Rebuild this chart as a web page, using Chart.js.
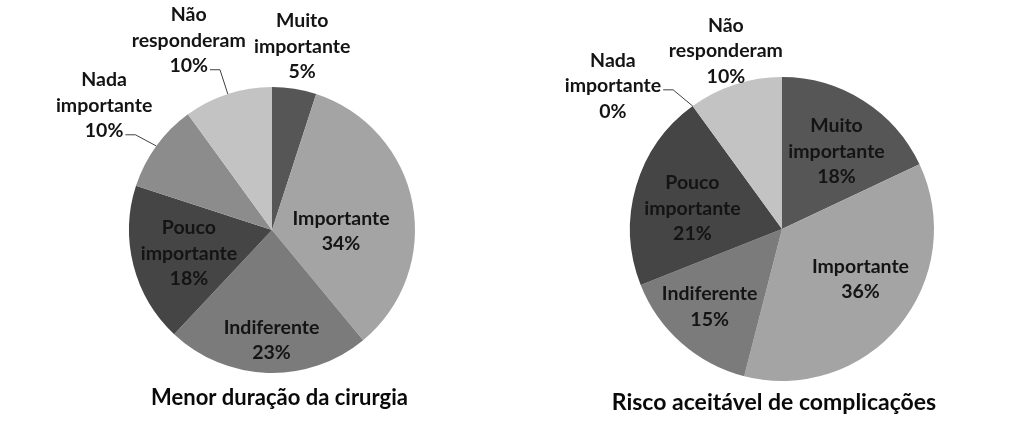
<!DOCTYPE html>
<html>
<head>
<meta charset="utf-8">
<script src="https://cdn.jsdelivr.net/npm/chart.js@4"></script>
<style>
  body { margin: 0; background: #fff; }
  #wrap { position: relative; width: 1024px; height: 447px; overflow: hidden; }
  canvas { position: absolute; top: 0; }
</style>
</head>
<body>
<div id="wrap">
  <canvas id="chartLeft" width="512" height="447" style="left:0"></canvas>
  <canvas id="chartRight" width="512" height="447" style="left:512px"></canvas>
</div>
<script>
// categories (line breaks as in the picture)
const categories = ['Muito\nimportante', 'Importante', 'Indiferente', 'Pouco\nimportante', 'Nada\nimportante', 'Não\nresponderam'];

// percentages
const duracaoValues = [5, 34, 23, 18, 10, 10];
const riscoValues = [18, 36, 15, 21, 0, 10];

const titleLeft = 'Menor duração da cirurgia';
const titleRight = 'Risco aceitável de complicações';

const sliceColors = ['#565656', '#a4a4a4', '#7b7b7b', '#454545', '#8c8c8c', '#c3c3c3'];

// label placement: [radius fraction, dx, dy, line index for leader (or null)]
const placeLeft = [[1.305, 1, 1, null], [0.47, 3, 14, null], [0.77, 3, 0, null], [0.6, 0, 2, null], [1.46, 1, -2, 2], [1.41, -21, 2, 2]];
const placeRight = [[0.62, 4, 2, null], [0.61, 7, -9, null], [0.70, -2, -2, null], [0.6, -2, 5, null], [1.40, -44, 29, 1], [1.216, 1, -2, null]];

const FONT = 'bold 19.5px Lato';
const LINE_H = 25.5;

const sliceLabels = {
    id: 'sliceLabels',
    afterDatasetsDraw(chart, args, opts) {
        const ctx = chart.ctx;
        const meta = chart.getDatasetMeta(0);
        const values = chart.data.datasets[0].data;
        ctx.save();
        ctx.font = FONT;
        ctx.fillStyle = '#141414';
        ctx.textAlign = 'center';
        ctx.textBaseline = 'middle';
        meta.data.forEach((arc, i) => {
            const a = arc.getProps(['x', 'y', 'startAngle', 'endAngle', 'outerRadius'], true);
            const mid = (a.startAngle + a.endAngle) / 2;
            const p = opts.place[i];
            const lx = a.x + Math.cos(mid) * a.outerRadius * p[0] + p[1];
            const ly = a.y + Math.sin(mid) * a.outerRadius * p[0] + p[2];
            const lines = chart.data.labels[i].split('\n').concat(values[i] + '%');
            const top = ly - (lines.length - 1) * LINE_H / 2;
            lines.forEach((t, k) => ctx.fillText(t, lx, top + k * LINE_H));

            if (p[3] !== null) {
                const w = ctx.measureText(lines[p[3]]).width;
                const sx = lx + w / 2 + 2;
                const sy = top + p[3] * LINE_H + 4;
                const ex = a.x + Math.cos(mid) * a.outerRadius;
                const ey = a.y + Math.sin(mid) * a.outerRadius;
                ctx.strokeStyle = '#404040';
                ctx.lineWidth = 1;
                ctx.beginPath();
                ctx.moveTo(sx, sy);
                ctx.lineTo(sx + 10, sy);
                ctx.lineTo(ex, ey);
                ctx.stroke();
            }
        });

        ctx.font = opts.titleFont;
        ctx.fillStyle = '#0a0a0a';
        ctx.fillText(opts.title, opts.titleX, opts.titleY);
        ctx.restore();
    }
};

function makePie(id, values, padding, place, title, titleFont, titleX, titleY) {
    return new Chart(document.getElementById(id), {
        type: 'pie',
        data: {
            labels: categories,
            datasets: [{
                data: values,
                backgroundColor: sliceColors,
                borderWidth: 0,
                hoverBorderWidth: 0,
                offset: 0,
                hoverOffset: 0
            }]
        },
        options: {
            responsive: false,
            animation: false,
            events: [],
            layout: { padding: padding },
            plugins: {
                legend: { display: false },
                tooltip: { enabled: false },
                sliceLabels: {
                    place: place,
                    title: title,
                    titleFont: titleFont,
                    titleX: titleX,
                    titleY: titleY
                }
            }
        },
        plugins: [sliceLabels]
    });
}

makePie('chartLeft', duracaoValues, { left: 129, right: 97, top: 87, bottom: 74 }, placeLeft, titleLeft, 'bold 22px Lato', 279.5, 398);
makePie('chartRight', riscoValues, { left: 118, right: 90, top: 77, bottom: 66 }, placeRight, titleRight, 'bold 23px Lato', 262, 403);
</script>
</body>
</html>
